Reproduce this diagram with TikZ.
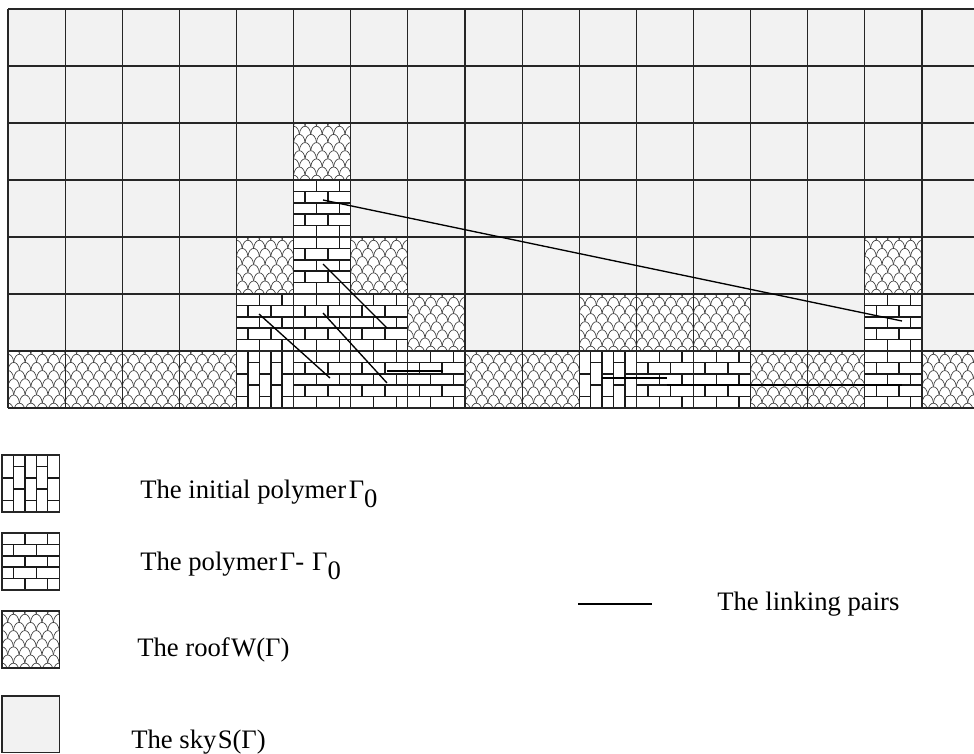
\documentclass[tikz,border=0pt]{standalone}
\usepackage{fontspec}
\setmainfont{Liberation Serif}
\definecolor{sky}{HTML}{F2F2F2}
\tikzset{
  gridline/.style={line width=0.9pt, draw=black!85},
  brickline/.style={line width=1.1pt, draw=black!90},
  scaleline/.style={line width=0.5pt, draw=black!75},
  linkline/.style={line width=1pt, draw=black},
  legendtext/.style={anchor=base west, inner sep=0pt, font=\fontsize{20}{24}\selectfont},
}
\newcommand\polyat[2]{%
  \fill[white] (#1,#2) rectangle ++(57.125,57);
  \foreach \k in {1,...,4}{\draw[brickline] (#1,#2+\k*11.4) -- ++(57.125,0);}
  \foreach \k in {0,2,4}{\draw[brickline] (#1+22.85,#2+\k*11.4) -- ++(0,11.4);
                         \draw[brickline] (#1+45.7,#2+\k*11.4) -- ++(0,11.4);}
  \foreach \k in {1,3}{\draw[brickline] (#1+11.425,#2+\k*11.4) -- ++(0,11.4);
                       \draw[brickline] (#1+34.275,#2+\k*11.4) -- ++(0,11.4);}
}
\newcommand\initat[2]{%
  \fill[white] (#1,#2) rectangle ++(57.125,57);
  \foreach \k in {1,...,4}{\draw[brickline] (#1+\k*11.425,#2) -- ++(0,57);}
  \foreach \k in {0,2,4}{\draw[brickline] (#1+\k*11.425,#2+22.8) -- ++(11.425,0);
                         \draw[brickline] (#1+\k*11.425,#2+45.6) -- ++(11.425,0);}
  \foreach \k in {1,3}{\draw[brickline] (#1+\k*11.425,#2+11.4) -- ++(11.425,0);
                       \draw[brickline] (#1+\k*11.425,#2+34.2) -- ++(11.425,0);}
}
\newcommand\roofat[2]{%
  \begin{scope}
  \clip (#1,#2) rectangle ++(57.125,57);
  \fill[white] (#1,#2) rectangle ++(57.125,57);
  \foreach \m in {0,...,8}{
    \foreach \n in {-1,...,5}{
      \pgfmathsetmacro\ax{#1+(\n+0.5*mod(\m,2))*11.425}
      \pgfmathsetmacro\ay{#2+\m*8.143+3}
      \pgfmathsetmacro\bx{\ax+11.425}
      \pgfmathsetmacro\sy{\ay-10.5}
      \pgfmathsetmacro\axc{\ax+1.2}
      \pgfmathsetmacro\bxc{\bx-1.2}
      \draw[scaleline] (\ax,\ay) .. controls (\axc,\sy) and (\bxc,\sy) .. (\bx,\ay);
    }}
  \end{scope}}
\newcommand\cellxy[2]{\pgfmathsetmacro\px{8+57.125*#1}\pgfmathsetmacro\py{9+57*#2}}
\newcommand\roofcell[2]{\cellxy{#1}{#2}\roofat{\px}{\py}}
\newcommand\polycell[2]{\cellxy{#1}{#2}\polyat{\px}{\py}}
\newcommand\initcell[2]{\cellxy{#1}{#2}\initat{\px}{\py}}
\begin{document}
\begin{tikzpicture}[x=0.75pt,y=-0.75pt]
\useasboundingbox (0,0) rectangle (974,753);
\clip (0,0) rectangle (974,753);
% sky
\fill[sky] (8,9) rectangle (980.125,408);
% roof cells
\foreach \c/\r in {0/6,1/6,2/6,3/6,8/6,9/6,13/6,14/6,16/6,7/5,10/5,11/5,12/5,4/4,6/4,15/4,5/2}
  {\roofcell{\c}{\r}}
% polymer cells
\foreach \c/\r in {5/6,6/6,7/6,11/6,12/6,15/6,4/5,5/5,6/5,15/5,5/4,5/3}
  {\polycell{\c}{\r}}
% initial polymer cells
\foreach \c/\r in {4/6,10/6}
  {\initcell{\c}{\r}}
% grid
\foreach \i in {0,...,17}{\draw[gridline] (8+\i*57.125,9) -- (8+\i*57.125,408);}
\foreach \j in {0,...,7}{\draw[gridline] (8,9+\j*57) -- (980.125,9+\j*57);}
% linking pairs
\coordinate (a1) at (323,200); \coordinate (b1) at (902,321);
\coordinate (a2) at (323,264); \coordinate (b2) at (387,328);
\coordinate (a3) at (259,314); \coordinate (b3) at (330,378);
\coordinate (a4) at (323,313); \coordinate (b4) at (387,383);
\coordinate (a5) at (387,371); \coordinate (b5) at (443,371);
\coordinate (a6) at (602,378); \coordinate (b6) at (667,378);
\coordinate (a7) at (667,385); \coordinate (b7) at (902,385);
\foreach \k in {1,...,7}{\draw[linkline] (a\k) -- (b\k);}
% legend boxes
\initat{2}{455}\draw[gridline] (2,455) rectangle ++(57.125,57);
\polyat{2}{533}\draw[gridline] (2,533) rectangle ++(57.125,57);
\roofat{2}{611}\draw[gridline] (2,611) rectangle ++(57.125,57);
\draw[gridline, fill=sky] (2,696) rectangle (59.125,752.4);
% legend texts
\node[legendtext] (tinit) at (140,498) {The initial polymer\kern2pt Γ\raisebox{-0.35em}{0}};
\node[legendtext] (tpoly) at (140,570) {The polymer\kern2pt Γ- \kern1pt Γ\raisebox{-0.35em}{0}};
\node[legendtext] (troof) at (137,656) {The roof\kern1pt W(Γ)};
\node[legendtext] (tsky) at (131,748) {The sky\kern1pt S(Γ)};
\coordinate (la) at (578,604); \coordinate (lb) at (652,604);
\draw[linkline] (la) -- (lb);
\node[legendtext] (tlink) at (717,610) {The linking pairs};
\end{tikzpicture}
\end{document}
